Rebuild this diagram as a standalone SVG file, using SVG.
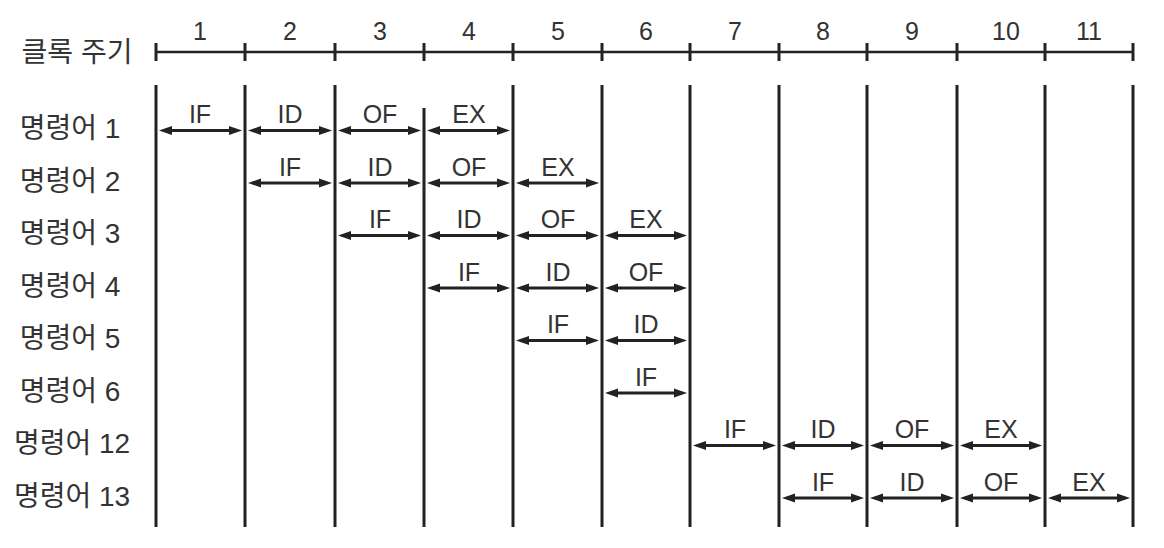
<svg xmlns="http://www.w3.org/2000/svg" width="1164" height="548" viewBox="0 0 1164 548">
<style>
.bg{fill:#fff}
.ax{stroke:#222;stroke-width:2.5;fill:none}
.tk{stroke:#222;stroke-width:3}
.vl{stroke:#222;stroke-width:3}
.ar{stroke:#222;stroke-width:3;marker-start:url(#ah);marker-end:url(#ah)}
.num{font-family:"Liberation Sans",Arial,sans-serif;font-size:25px;fill:#333;text-anchor:middle}
.st{font-family:"Liberation Sans",Arial,sans-serif;font-size:25px;fill:#333;text-anchor:middle}
.lb{font-family:"Liberation Sans","Noto Sans CJK KR",sans-serif;font-size:28px;fill:#333;text-anchor:middle}
</style>
<defs>
<marker id="ah" markerUnits="userSpaceOnUse" markerWidth="14" markerHeight="10" viewBox="0 0 14 10" refX="8" refY="5" orient="auto-start-reverse">
<path d="M0,0.5 L13,5 L0,9.5 Z" fill="#222"/>
</marker>
</defs>
<rect class="bg" x="0" y="0" width="1164" height="548"/>

<g id="axis">
<text class="lb" x="77" y="62">클록 주기</text>
<line class="ax" x1="156" y1="52" x2="1133" y2="52"/>
<g class="tk">
<line x1="156" y1="43" x2="156" y2="61"/>
<line x1="245" y1="43" x2="245" y2="61"/>
<line x1="335" y1="43" x2="335" y2="61"/>
<line x1="424" y1="43" x2="424" y2="61"/>
<line x1="513" y1="43" x2="513" y2="61"/>
<line x1="602" y1="43" x2="602" y2="61"/>
<line x1="690" y1="43" x2="690" y2="61"/>
<line x1="779" y1="43" x2="779" y2="61"/>
<line x1="867" y1="43" x2="867" y2="61"/>
<line x1="957" y1="43" x2="957" y2="61"/>
<line x1="1045" y1="43" x2="1045" y2="61"/>
<line x1="1133" y1="43" x2="1133" y2="61"/>
</g>
<text class="num" x="200" y="40">1</text>
<text class="num" x="290" y="40">2</text>
<text class="num" x="380" y="40">3</text>
<text class="num" x="469" y="40">4</text>
<text class="num" x="558" y="40">5</text>
<text class="num" x="646" y="40">6</text>
<text class="num" x="735" y="40">7</text>
<text class="num" x="823" y="40">8</text>
<text class="num" x="912" y="40">9</text>
<text class="num" x="1006" y="40">10</text>
<text class="num" x="1089" y="40">11</text>
</g>

<g id="gridlines" class="vl">
<line x1="156" y1="85" x2="156" y2="527"/>
<line x1="245" y1="85" x2="245" y2="527"/>
<line x1="335" y1="85" x2="335" y2="527"/>
<line x1="424" y1="108" x2="424" y2="527"/>
<line x1="513" y1="85" x2="513" y2="527"/>
<line x1="602" y1="85" x2="602" y2="527"/>
<line x1="690" y1="85" x2="690" y2="527"/>
<line x1="779" y1="85" x2="779" y2="527"/>
<line x1="867" y1="85" x2="867" y2="527"/>
<line x1="957" y1="85" x2="957" y2="527"/>
<line x1="1045" y1="85" x2="1045" y2="527"/>
<line x1="1133" y1="85" x2="1133" y2="527"/>
</g>

<g id="labels">
<text class="lb" x="70" y="138">명령어 1</text>
<text class="lb" x="70" y="190.5">명령어 2</text>
<text class="lb" x="70" y="243">명령어 3</text>
<text class="lb" x="70" y="295.5">명령어 4</text>
<text class="lb" x="70" y="348">명령어 5</text>
<text class="lb" x="70" y="400.5">명령어 6</text>
<text class="lb" x="72" y="453">명령어 12</text>
<text class="lb" x="72" y="505.5">명령어 13</text>
</g>

<g id="connectors">
<!-- row 1 -->
<line class="ar" x1="164" y1="130.5" x2="237" y2="130.5"/>
<line class="ar" x1="253" y1="130.5" x2="327" y2="130.5"/>
<line class="ar" x1="343" y1="130.5" x2="416" y2="130.5"/>
<line class="ar" x1="432" y1="130.5" x2="505" y2="130.5"/>
<!-- row 2 -->
<line class="ar" x1="253" y1="183" x2="327" y2="183"/>
<line class="ar" x1="343" y1="183" x2="416" y2="183"/>
<line class="ar" x1="432" y1="183" x2="505" y2="183"/>
<line class="ar" x1="521" y1="183" x2="594" y2="183"/>
<!-- row 3 -->
<line class="ar" x1="343" y1="235.5" x2="416" y2="235.5"/>
<line class="ar" x1="432" y1="235.5" x2="505" y2="235.5"/>
<line class="ar" x1="521" y1="235.5" x2="594" y2="235.5"/>
<line class="ar" x1="610" y1="235.5" x2="682" y2="235.5"/>
<!-- row 4 -->
<line class="ar" x1="432" y1="288" x2="505" y2="288"/>
<line class="ar" x1="521" y1="288" x2="594" y2="288"/>
<line class="ar" x1="610" y1="288" x2="682" y2="288"/>
<!-- row 5 -->
<line class="ar" x1="521" y1="340.5" x2="594" y2="340.5"/>
<line class="ar" x1="610" y1="340.5" x2="682" y2="340.5"/>
<!-- row 6 -->
<line class="ar" x1="610" y1="393" x2="682" y2="393"/>
<!-- row 12 -->
<line class="ar" x1="698" y1="445.5" x2="771" y2="445.5"/>
<line class="ar" x1="787" y1="445.5" x2="859" y2="445.5"/>
<line class="ar" x1="875" y1="445.5" x2="949" y2="445.5"/>
<line class="ar" x1="965" y1="445.5" x2="1037" y2="445.5"/>
<!-- row 13 -->
<line class="ar" x1="787" y1="498" x2="859" y2="498"/>
<line class="ar" x1="875" y1="498" x2="949" y2="498"/>
<line class="ar" x1="965" y1="498" x2="1037" y2="498"/>
<line class="ar" x1="1053" y1="498" x2="1125" y2="498"/>
</g>

<g id="stages">
<text class="st" x="200" y="123">IF</text>
<text class="st" x="290" y="123">ID</text>
<text class="st" x="380" y="123">OF</text>
<text class="st" x="469" y="123">EX</text>

<text class="st" x="290" y="175.5">IF</text>
<text class="st" x="380" y="175.5">ID</text>
<text class="st" x="469" y="175.5">OF</text>
<text class="st" x="558" y="175.5">EX</text>

<text class="st" x="380" y="228">IF</text>
<text class="st" x="469" y="228">ID</text>
<text class="st" x="558" y="228">OF</text>
<text class="st" x="646" y="228">EX</text>

<text class="st" x="469" y="280.5">IF</text>
<text class="st" x="558" y="280.5">ID</text>
<text class="st" x="646" y="280.5">OF</text>

<text class="st" x="558" y="333">IF</text>
<text class="st" x="646" y="333">ID</text>

<text class="st" x="646" y="385.5">IF</text>

<text class="st" x="735" y="438">IF</text>
<text class="st" x="823" y="438">ID</text>
<text class="st" x="912" y="438">OF</text>
<text class="st" x="1001" y="438">EX</text>

<text class="st" x="823" y="490.5">IF</text>
<text class="st" x="912" y="490.5">ID</text>
<text class="st" x="1001" y="490.5">OF</text>
<text class="st" x="1089" y="490.5">EX</text>
</g>
</svg>
